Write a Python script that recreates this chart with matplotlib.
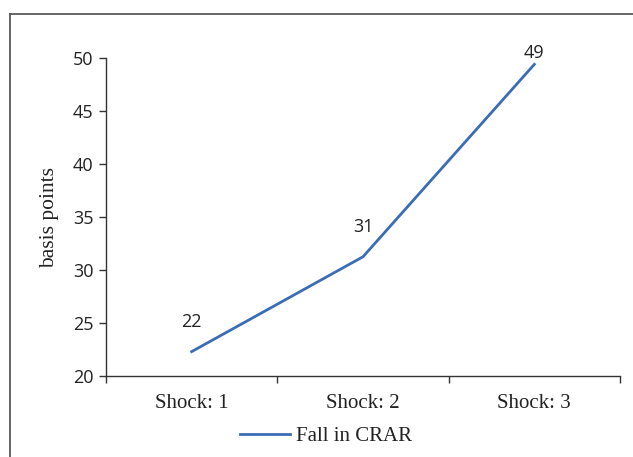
import matplotlib
matplotlib.use("Agg")
import matplotlib.pyplot as plt
from matplotlib.lines import Line2D

categories = ["Shock: 1", "Shock: 2", "Shock: 3"]
fall_in_crar = [22.3, 31.25, 49.4]
labels = ["22", "31", "49"]
series_name = "Fall in CRAR"
y_ticks = [20, 25, 30, 35, 40, 45, 50]

W, H = 633, 457
fig = plt.figure(figsize=(W / 100, H / 100), dpi=100)
fig.patch.set_facecolor("white")

# outer frame (cropped chart border)
frame_c = "#5a5a5a"
fig.add_artist(Line2D([10 / W, 10 / W], [0, 1 - 14 / H], transform=fig.transFigure,
                      color=frame_c, lw=1.3))
fig.add_artist(Line2D([10 / W, 1.0], [1 - 14 / H, 1 - 14 / H], transform=fig.transFigure,
                      color=frame_c, lw=1.3))

ax = fig.add_axes([106 / W, 1 - 376 / H, (620 - 106) / W, (376 - 58) / H])
x = list(range(len(categories)))
ax.plot(x, fall_in_crar, color="#3A6DB5", lw=2.0, label=series_name)

serif = "Liberation Serif"
sans = "Open Sans"
txt_c = "#222222"

ax.set_xlim(-0.5, len(categories) - 0.5)
ax.set_ylim(20, 50)
ax.set_yticks(y_ticks)
ax.set_yticklabels([str(t) for t in y_ticks], fontfamily=sans, fontsize=13, color=txt_c)
ax.set_xticks(x)
ax.set_xticklabels(categories, fontfamily=serif, fontsize=15, color=txt_c)
ax.tick_params(axis="x", length=0, pad=13)
ax.tick_params(axis="y", length=5, width=1, color="#333333", pad=4, direction="out")
# category boundary ticks
ax.set_xticks([-0.5, 0.5, 1.5, 2.5], minor=True)
ax.tick_params(axis="x", which="minor", length=5, width=1, color="#333333", direction="out")

for s in ["top", "right"]:
    ax.spines[s].set_visible(False)
for s in ["left", "bottom"]:
    ax.spines[s].set_color("#333333")
    ax.spines[s].set_linewidth(1.0)

ax.set_ylabel("basis points", fontfamily=serif, fontsize=15.5, color=txt_c, labelpad=10)

offsets = [21.5, 21.5, 8.5]
for xi, yi, lab, off in zip(x, fall_in_crar, labels, offsets):
    ax.annotate(lab, (xi, yi), xytext=(0, off), textcoords="offset points",
                ha="center", va="center", fontfamily=sans, fontsize=13, color=txt_c)

leg = fig.legend(loc="center", bbox_to_anchor=(326 / W, 1 - 436 / H), frameon=False,
                 prop={"family": serif, "size": 15},
                 handlelength=2.4, handletextpad=0.3)
for t in leg.get_texts():
    t.set_color(txt_c)

fig.savefig("out.png", dpi=100)
